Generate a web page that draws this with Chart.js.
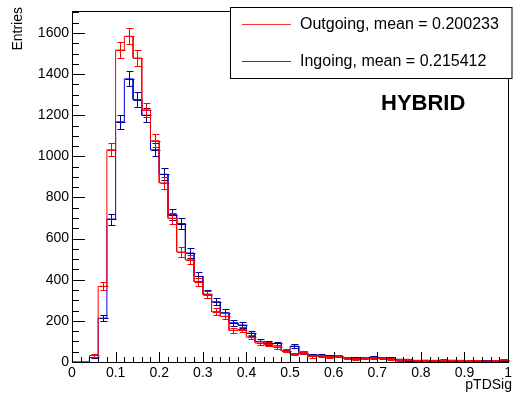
<!DOCTYPE html>
<html>
<head>
<meta charset="utf-8">
<script src="https://cdn.jsdelivr.net/npm/chart.js@4.4.1/dist/chart.umd.min.js"></script>
<style>
  body { margin: 0; background: #fff; }
  #wrap { width: 515px; height: 399px; }
</style>
</head>
<body>
<div id="wrap"><canvas id="pTDSigChart" width="515" height="399"></canvas></div>
<script>
    // pTDSig histograms, 50 bins of 0.02 from 0 to 1
    const binWidth = 0.02;

    const outgoing = [
        0, 0, 32, 368, 1032, 1517, 1584, 1478, 1226, 1076,
        871, 699, 535, 497, 389, 328, 245, 222, 154, 158,
        121, 93, 86, 74, 55, 39, 46, 27, 28, 25,
        28, 18, 15, 20, 18, 20, 16, 10, 13, 8,
        9, 7, 10, 9, 8, 6, 7, 5, 6, 11
    ];
    const ingoing = [
        0, 0, 22, 213, 695, 1168, 1377, 1276, 1200, 1032,
        913, 717, 673, 530, 416, 330, 293, 240, 191, 180,
        140, 100, 92, 90, 55, 77, 45, 35, 34, 29,
        30, 20, 21, 21, 23, 22, 19, 13, 7, 7,
        5, 8, 6, 7, 6, 4, 6, 7, 5, 6
    ];

    const seriesNames = ['Outgoing, mean = 0.200233', 'Ingoing, mean = 0.215412'];
    const seriesColors = ['#ff0000', '#0000e0'];
    const errorColors = ['#ff0000', '#000090'];
    const legendColors = ['#ff3030', '#3030d0'];

    const xTicks = [0, 0.1, 0.2, 0.3, 0.4, 0.5, 0.6, 0.7, 0.8, 0.9, 1];
    const yTicks = [0, 200, 400, 600, 800, 1000, 1200, 1400, 1600];

    const FONT = "'Liberation Sans', Arial, Helvetica, sans-serif";

    // outline points: each bin contributes its left and right edge at its height
    function outline(values) {
        const pts = [];
        values.forEach((v, i) => {
            pts.push({ x: i * binWidth, y: v });
            pts.push({ x: (i + 1) * binWidth, y: v });
        });
        return pts;
    }

    // sqrt(N) error bars with small caps, drawn right after each histogram
    const errorBars = {
        id: 'errorBars',
        afterDatasetDraw(chart, args) {
            const ds = chart.data.datasets[args.index];
            const xs = chart.scales.x, ys = chart.scales.y;
            const ctx = chart.ctx;
            ctx.save();
            ctx.strokeStyle = errorColors[args.index];
            ctx.lineWidth = 1;
            ds.counts.forEach((v, i) => {
                if (v <= 0) return;
                const e = Math.sqrt(v);
                const px = Math.round(xs.getPixelForValue((i + 0.5) * binWidth)) + 0.5;
                const lo = Math.round(ys.getPixelForValue(v - e)) + 0.5;
                const hi = Math.round(ys.getPixelForValue(v + e)) + 0.5;
                const y0 = Math.round(ys.getPixelForValue(v)) + 0.5;
                ctx.beginPath();
                ctx.moveTo(px, lo);
                ctx.lineTo(px, hi);
                ctx.moveTo(px - 3, lo);
                ctx.lineTo(px + 4, lo);
                ctx.moveTo(px - 3, hi);
                ctx.lineTo(px + 4, hi);
                ctx.moveTo(px - 4, y0);
                ctx.lineTo(px + 5, y0);
                ctx.stroke();
            });
            ctx.restore();
        }
    };

    // frame, inward ticks, axis titles, legend box and label
    const decorations = {
        id: 'decorations',
        afterDraw(chart) {
            const ctx = chart.ctx;
            const a = chart.chartArea;
            const xs = chart.scales.x, ys = chart.scales.y;
            ctx.save();
            ctx.strokeStyle = '#000';
            ctx.lineWidth = 1;
            ctx.strokeRect(Math.round(a.left) + 0.5, Math.round(a.top) + 0.5,
                Math.round(a.right - a.left), Math.round(a.bottom - a.top));

            ctx.beginPath();
            for (let v = 0; v <= 1700; v += 50) {
                const py = Math.round(ys.getPixelForValue(v)) + 0.5;
                const len = v % 200 === 0 ? 13 : 7;
                ctx.moveTo(a.left, py);
                ctx.lineTo(a.left + len, py);
            }
            for (let k = 0; k <= 50; k++) {
                const px = Math.round(xs.getPixelForValue(k * binWidth)) + 0.5;
                const len = k % 5 === 0 ? 10 : 5;
                ctx.moveTo(px, a.bottom);
                ctx.lineTo(px, a.bottom - len);
            }
            ctx.stroke();

            ctx.fillStyle = '#000';
            ctx.font = '14px ' + FONT;
            ctx.textAlign = 'right';
            ctx.textBaseline = 'middle';
            ctx.fillText('pTDSig', 512, 385);
            ctx.save();
            ctx.translate(18, 7);
            ctx.rotate(-Math.PI / 2);
            ctx.fillText('Entries', 0, 0);
            ctx.restore();

            // legend
            ctx.fillStyle = '#fff';
            ctx.fillRect(230.5, 7.5, 281.5, 71);
            ctx.strokeRect(230.5, 7.5, 281.5, 71);
            ctx.font = '16px ' + FONT;
            ctx.textAlign = 'left';
            chart.data.datasets.forEach((ds, i) => {
                const y = i === 0 ? 24.5 : 61.5;
                ctx.strokeStyle = legendColors[i];
                ctx.beginPath();
                ctx.moveTo(242, y);
                ctx.lineTo(291, y);
                ctx.stroke();
                ctx.fillStyle = '#000';
                ctx.fillText(ds.label, 300, y);
            });

            ctx.font = 'bold 22px ' + FONT;
            ctx.fillText('HYBRID', 381, 104);
            ctx.restore();
        }
    };

    const ctx = document.getElementById('pTDSigChart');

    const pTDSigChart = new Chart(ctx, {
        type: 'line',
        data: {
            datasets: [outgoing, ingoing].map((vals, i) => ({
                label: seriesNames[i],
                data: outline(vals),
                counts: vals,
                borderColor: seriesColors[i],
                borderWidth: 1,
                pointRadius: 0,
                tension: 0,
                fill: false,
                clip: false
            }))
        },
        options: {
            responsive: false,
            animation: false,
            devicePixelRatio: 1,
            layout: { padding: { top: 7, right: 3, left: 0, bottom: 0 } },
            plugins: {
                legend: { display: false },
                tooltip: { enabled: false }
            },
            scales: {
                x: {
                    type: 'linear',
                    min: 0,
                    max: 1,
                    afterFit: s => { s.height = 37; },
                    afterBuildTicks: s => { s.ticks = xTicks.map(v => ({ value: v })); },
                    grid: { display: false, drawTicks: false },
                    border: { display: true, color: '#000', width: 1 },
                    ticks: {
                        padding: 3,
                        maxRotation: 0,
                        autoSkip: false,
                        color: '#000',
                        font: { family: FONT, size: 14 },
                        callback: v => String(Number(v.toFixed(1)))
                    }
                },
                y: {
                    min: 0,
                    max: 1705,
                    afterFit: s => { s.width = 72; },
                    afterBuildTicks: s => { s.ticks = yTicks.map(v => ({ value: v })); },
                    grid: { display: false, drawTicks: false },
                    border: { display: true, color: '#000', width: 1 },
                    ticks: {
                        padding: 3,
                        autoSkip: false,
                        color: '#000',
                        font: { family: FONT, size: 14 },
                        callback: v => String(v)
                    }
                }
            }
        },
        plugins: [errorBars, decorations]
    });
</script>
</body>
</html>
